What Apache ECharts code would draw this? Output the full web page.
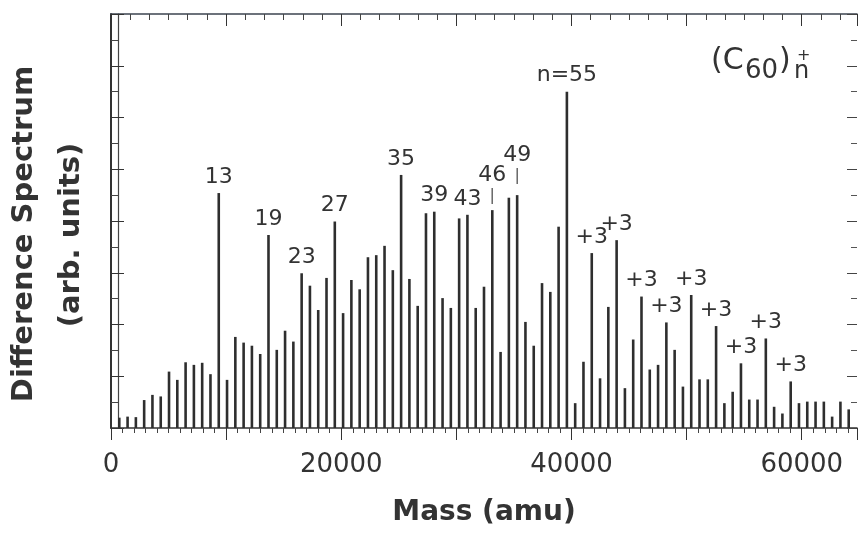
<!DOCTYPE html>
<html>
<head>
<meta charset="utf-8">
<script src="https://cdn.jsdelivr.net/npm/echarts@6/dist/echarts.min.js"></script>
<style>
  html, body { margin: 0; padding: 0; background: #fff; }
  #chart { width: 860px; height: 533px; }
</style>
</head>
<body>
<div id="chart"></div>
<script>
// mass of one C60 unit (amu)
const C60_MASS = 720;

// peak heights for cluster size n = 1 .. 89 (arb. units)
const peakHeights = [
  0.20, 0.22, 0.21, 0.54, 0.64, 0.61, 1.09, 0.93, 1.27, 1.22,
  1.26, 1.04, 4.54, 0.93, 1.76, 1.65, 1.59, 1.43, 3.73, 1.51,
  1.88, 1.67, 2.99, 2.75, 2.28, 2.90, 3.99, 2.22, 2.86, 2.68,
  3.30, 3.34, 3.52, 3.05, 4.89, 2.88, 2.36, 4.15, 4.18, 2.51,
  2.32, 4.05, 4.12, 2.32, 2.73, 4.21, 1.47, 4.45, 4.50, 2.05,
  1.59, 2.80, 2.63, 3.89, 6.50, 0.48, 1.28, 3.38, 0.96, 2.34,
  3.63, 0.77, 1.71, 2.54, 1.13, 1.22, 2.04, 1.51, 0.80, 2.57,
  0.94, 0.94, 1.97, 0.48, 0.70, 1.25, 0.55, 0.55, 1.73, 0.41,
  0.28, 0.90, 0.48, 0.51, 0.51, 0.51, 0.22, 0.51, 0.36
];

// annotated peaks: cluster size -> text
const peakLabels = {
  13: '13', 19: '19', 23: '23', 27: '27', 35: '35', 39: '39', 43: '43',
  46: '46', 49: '49', 55: 'n=55',
  58: '+3', 61: '+3', 64: '+3', 67: '+3', 70: '+3', 73: '+3', 76: '+3', 79: '+3', 82: '+3'
};
// labels drawn with a small marker bar under them
const markedPeaks = [46, 49];

const massTickLabels = [0, 20000, 40000, 60000];

const TXT = '#333';
const FONT = 'DejaVu Sans';

const chart = echarts.init(document.getElementById('chart'));

const peakData = peakHeights.map((h, i) => {
  const n = i + 1;
  const item = { value: [n * C60_MASS, h] };
  if (peakLabels[n]) {
    const marked = markedPeaks.indexOf(n) >= 0;
    item.label = {
      show: true,
      distance: n === 49 ? 10 : 5,
      formatter: marked ? '{t|' + peakLabels[n] + '}\n{b||}' : peakLabels[n]
    };
  }
  return item;
});

chart.setOption({
  animation: false,
  grid: { left: 111, right: 3, top: 14, bottom: 105 },
  xAxis: [
    {
      type: 'value', position: 'bottom', min: 0, max: 64800, interval: 10000,
      axisLine: { onZero: false, lineStyle: { color: '#333', width: 1.5 } },
      axisTick: { show: true, length: 12, lineStyle: { color: '#333' } },
      minorTick: { show: true, splitNumber: 10, length: 5, lineStyle: { color: '#444' } },
      splitLine: { show: false },
      axisLabel: {
        margin: 24, fontSize: 26, color: TXT, fontFamily: FONT,
        formatter: (v) => massTickLabels.indexOf(v) >= 0 ? String(v) : ''
      },
      name: 'Mass (amu)', nameLocation: 'middle', nameGap: 71,
      nameTextStyle: { fontSize: 28, fontWeight: 'bold', color: TXT, fontFamily: FONT }
    },
    {
      type: 'value', position: 'top', min: 0, max: 64800, interval: 10000,
      axisLine: { onZero: false, lineStyle: { color: '#3c4450', width: 1.5 } },
      axisTick: { show: true, inside: true, length: 12, lineStyle: { color: '#333' } },
      minorTick: { show: true, splitNumber: 6, length: 6, lineStyle: { color: '#444' } },
      splitLine: { show: false },
      axisLabel: { show: false }
    }
  ],
  yAxis: [
    {
      type: 'value', position: 'left', min: 0, max: 8, interval: 1,
      axisLine: { show: true, onZero: false, lineStyle: { color: '#333', width: 2 } },
      axisTick: { show: true, inside: true, length: 13, lineStyle: { color: '#333' } },
      minorTick: { show: true, splitNumber: 2, length: 8, lineStyle: { color: '#444' } },
      splitLine: { show: false },
      axisLabel: { show: false }
    },
    {
      // right side: only inward ticks, its frame line falls off the picture
      type: 'value', position: 'right', min: 0, max: 8, interval: 1,
      axisLine: { show: false, onZero: false },
      axisTick: { show: true, inside: true, length: 10, lineStyle: { color: '#444' } },
      minorTick: { show: true, splitNumber: 2, length: 6, lineStyle: { color: '#555' } },
      splitLine: { show: false },
      axisLabel: { show: false }
    },
    {
      // inner line of the doubled left frame
      type: 'value', position: 'left', offset: -7, min: 0, max: 8,
      axisLine: { show: true, onZero: false, lineStyle: { color: '#444', width: 1.2 } },
      axisTick: { show: false }, splitLine: { show: false }, axisLabel: { show: false }
    }
  ],
  series: [
    {
      type: 'bar',
      xAxisIndex: 0, yAxisIndex: 0,
      barWidth: 2.6,
      itemStyle: { color: '#2e2e2e' },
      label: {
        position: 'top', color: TXT, fontSize: 22, fontFamily: FONT,
        rich: {
          t: { fontSize: 22, color: TXT, fontFamily: FONT, lineHeight: 24 },
          b: { fontSize: 16, color: '#555', fontFamily: FONT, lineHeight: 18 }
        }
      },
      data: peakData
    }
  ],
  graphic: [
    {
      type: 'text', x: 24, y: 234, rotation: Math.PI / 2,
      style: { text: 'Difference Spectrum', font: 'bold 29px "DejaVu Sans"', fill: TXT, align: 'center', verticalAlign: 'middle' }
    },
    {
      type: 'text', x: 71, y: 235, rotation: Math.PI / 2,
      style: { text: '(arb. units)', font: 'bold 29px "DejaVu Sans"', fill: TXT, align: 'center', verticalAlign: 'middle' }
    },
    {
      type: 'text', x: 711, y: 61,
      style: { text: '(C', font: '30px "DejaVu Sans"', fill: TXT, align: 'left', verticalAlign: 'middle' }
    },
    {
      type: 'text', x: 745, y: 71,
      style: { text: '60', font: '26px "DejaVu Sans"', fill: TXT, align: 'left', verticalAlign: 'middle' }
    },
    {
      type: 'text', x: 779, y: 61,
      style: { text: ')', font: '30px "DejaVu Sans"', fill: TXT, align: 'left', verticalAlign: 'middle' }
    },
    {
      type: 'text', x: 794, y: 72,
      style: { text: 'n', font: '24px "DejaVu Sans"', fill: TXT, align: 'left', verticalAlign: 'middle' }
    },
    {
      type: 'text', x: 797, y: 56,
      style: { text: '+', font: '16px "DejaVu Sans"', fill: TXT, align: 'left', verticalAlign: 'middle' }
    }
  ]
});
</script>
</body>
</html>
